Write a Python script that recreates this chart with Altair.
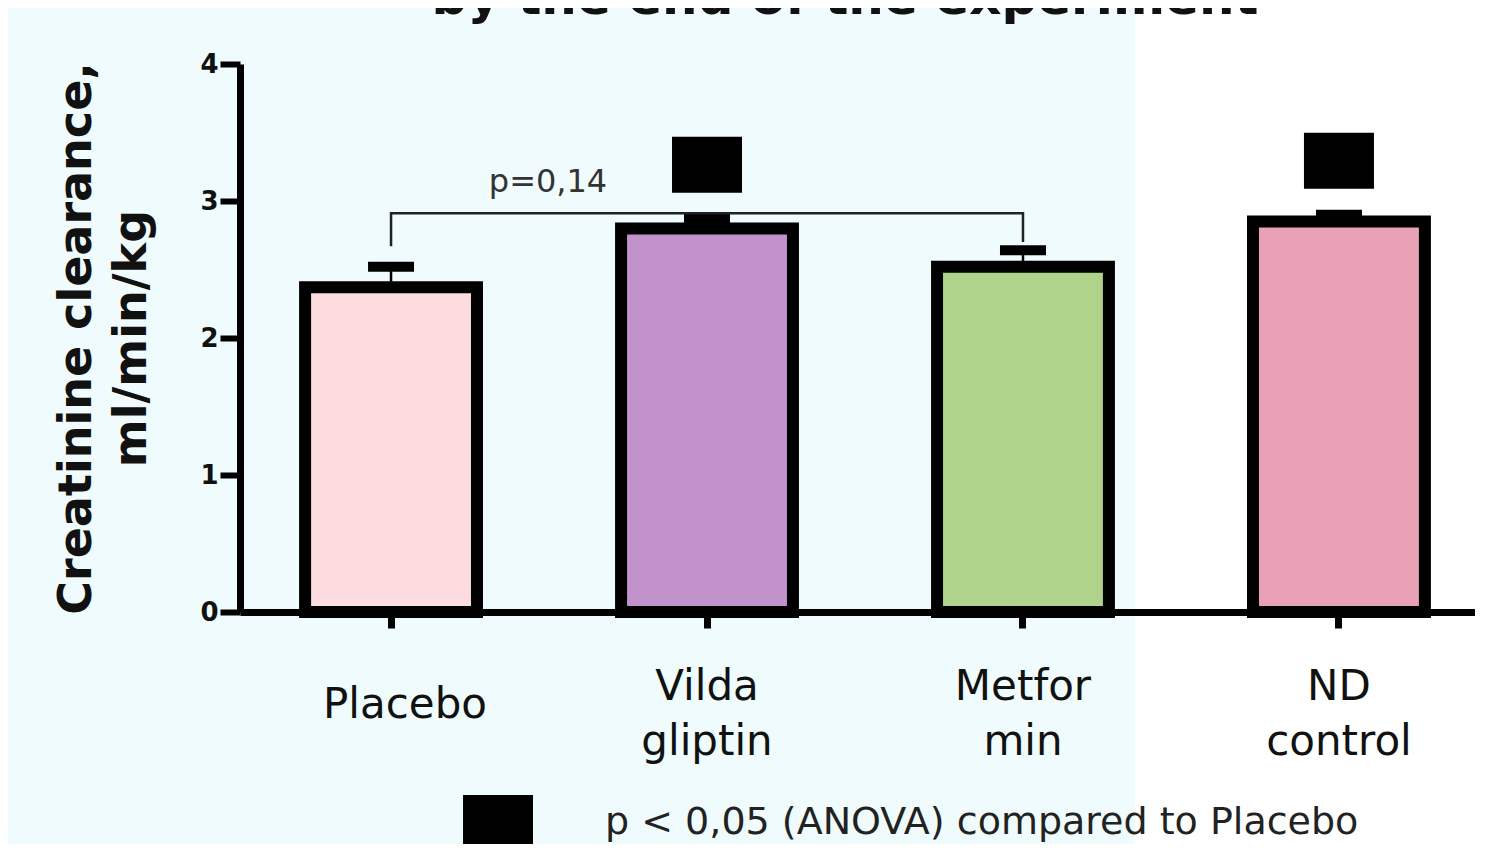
import altair as alt
import pandas as pd

# ---- data ----
groups = ["Placebo", "Vildagliptin", "Metformin", "ND control"]
means = [2.37, 2.80, 2.52, 2.85]
upper = [2.52, 2.87, 2.64, 2.90]
fills = ["#fcdcde", "#c292cc", "#b0d38b", "#e8a1b5"]
significant = [False, True, False, True]
bracket_groups = ["Placebo", "Placebo", "Metformin", "Metformin"]
bracket_values = [2.67, 2.91, 2.91, 2.70]
p_text = "p=0,14"
p_text_group = "Placebo"
p_text_value = 3.14
sig_label = "p < 0,05 (ANOVA)  compared to Placebo"
y_ticks = [0, 1, 2, 3, 4]
y_title = ["Creatinine clearance,", "ml/min/kg"]
chart_title = "by the end of the experiment"

bars_df = pd.DataFrame({"group": groups, "value": means, "upper": upper,
                        "sig": significant})
sig_df = bars_df[bars_df["sig"]].assign(label=sig_label)
bracket_df = pd.DataFrame({"group": bracket_groups, "value": bracket_values,
                           "idx": list(range(len(bracket_groups)))})
ptext_df = pd.DataFrame({"group": [p_text_group], "value": [p_text_value],
                         "text": [p_text]})

SQUARE = "M-1,-0.8H1V0.8H-1Z"
FONT = "DejaVu Sans"
INK = "#111111"

label_expr = ("datum.value == 'Vildagliptin' ? ['Vilda', 'gliptin'] : "
              "datum.value == 'Metformin' ? ['Metfor', 'min'] : "
              "datum.value == 'ND control' ? ['ND', 'control'] : datum.label")

x_axis = alt.Axis(title=None, labelExpr=label_expr, labelAngle=0,
                  labelFont=FONT, labelFontSize=42, labelLineHeight=55,
                  labelBaseline="middle",
                  labelPadding={"condition": {"test": "datum.value == 'Placebo'",
                                              "value": 76},
                                "value": 58},
                  labelOffset={"condition": {"test": "datum.value == 'Placebo'",
                                             "value": 14},
                               "value": 0},
                  labelColor=INK, labelOverlap=False, tickSize=16,
                  tickWidth=7, tickColor="black", domainColor="black",
                  domainWidth=7, zindex=1)
x_enc = alt.X("group:N", sort=groups, axis=x_axis,
              scale=alt.Scale(domain=groups, range=[0, 1250],
                              paddingInner=0.456, paddingOuter=0.206))

y_axis = alt.Axis(values=y_ticks, grid=False, title=y_title,
                  titleFont=FONT, titleFontWeight="bold", titleFontSize=46,
                  titleLineHeight=55, titleAngle=270, titleAlign="center",
                  titleBaseline="middle", titleX=-164, titleY=274,
                  titleColor=INK, labelFont=FONT, labelFontWeight="bold",
                  labelFontSize=26, labelColor=INK, labelPadding=2,
                  tickSize=20, tickWidth=6, tickColor="black",
                  domainColor="black", domainWidth=7, zindex=1)
y_scale = alt.Scale(domain=[0, 4], nice=False, zero=True)

def y_enc(field):
    return alt.Y(f"{field}:Q", scale=y_scale, axis=y_axis)

white_panel = alt.Chart(alt.Data(values=[{"a": 1}])).mark_rect(
    color="white").encode(
    x=alt.value(895), x2=alt.value(1400),
    y=alt.value(-56), y2=alt.value(900))

title_text = alt.Chart(alt.Data(values=[{"t": chart_title}])).mark_text(
    font=FONT, fontSize=50, fontWeight="bold", color=INK, align="center",
    baseline="alphabetic").encode(
    x=alt.value(605), y=alt.value(-50), text="t:N")

bars = alt.Chart(bars_df).mark_bar(stroke="black", strokeWidth=12).encode(
    x=x_enc, y=y_enc("value"),
    fill=alt.Fill("group:N", scale=alt.Scale(domain=groups, range=fills),
                  legend=None))

stems = alt.Chart(bars_df).mark_rule(color="black", strokeWidth=2.5).encode(
    x=x_enc, y=y_enc("value"), y2="upper:Q")

caps = alt.Chart(bars_df).mark_tick(color="black", thickness=10, size=46,
                                    opacity=1).encode(
    x=x_enc, y=y_enc("upper"))

squares = alt.Chart(sig_df).mark_point(shape=SQUARE, filled=True, size=4900,
                                       opacity=1, yOffset=-54).encode(
    x=x_enc, y=y_enc("upper"),
    color=alt.Color("label:N", scale=alt.Scale(range=["black"]),
                    legend=alt.Legend(orient="none", legendX=223,
                                      legendY=724, title=None, padding=0,
                                      symbolType=SQUARE, symbolSize=4900,
                                      symbolStrokeWidth=0,
                                      symbolFillColor="black",
                                      labelFont=FONT, labelFontSize=38,
                                      labelColor="#222222", labelLimit=1200,
                                      labelOffset=72)))

bracket = alt.Chart(bracket_df).mark_line(color="#222222",
                                          strokeWidth=2.5).encode(
    x=x_enc, y=y_enc("value"), order="idx:Q")

ptext = alt.Chart(ptext_df).mark_text(dx=157, font=FONT, fontSize=32,
                                      color="#333333",
                                      baseline="middle").encode(
    x=x_enc, y=y_enc("value"), text="text:N")

chart = alt.layer(white_panel, title_text, bars, stems, caps, bracket, ptext,
                  squares).properties(
    width=1235, height=548,
    padding={"left": 232, "top": 56, "right": 0, "bottom": 232},
    autosize=alt.AutoSizeParams(type="none"),
    background="#effbfc",
).configure_view(strokeWidth=0)

chart.save("out.html", embed_options={"renderer": "svg", "actions": False})
